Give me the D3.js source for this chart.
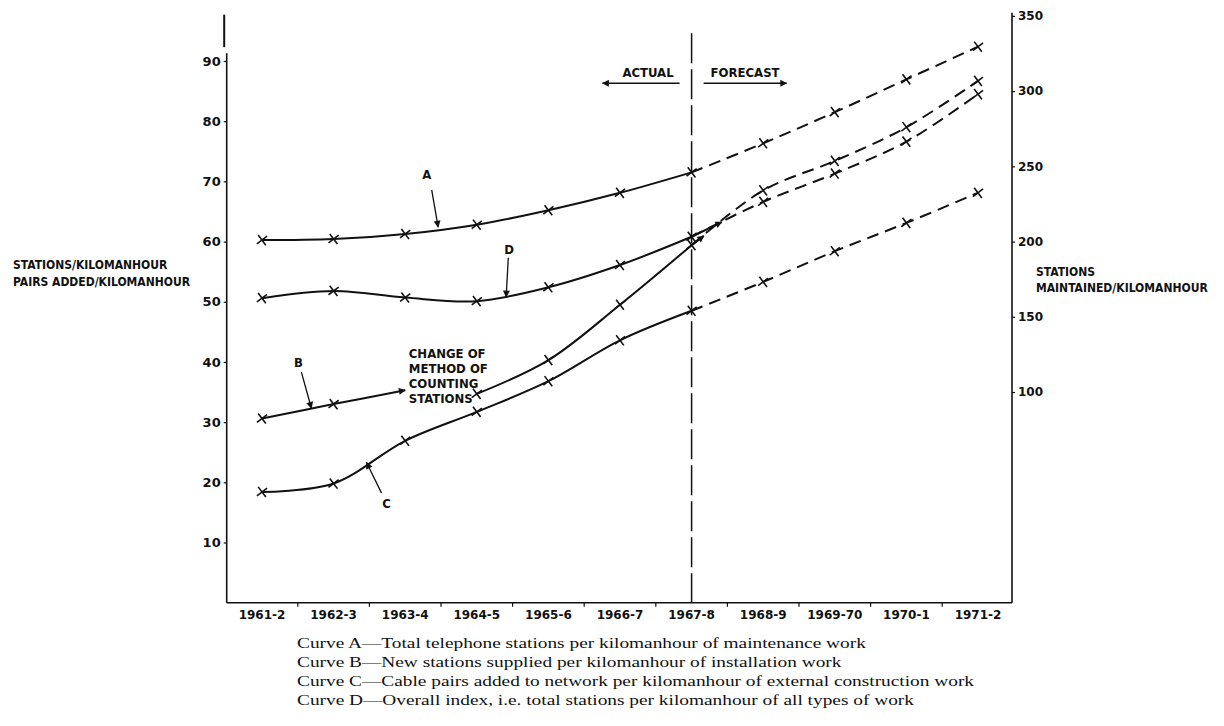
<!DOCTYPE html>
<html><head><meta charset="utf-8">
<script src="https://cdn.jsdelivr.net/npm/d3@7"></script>
<style>
html,body{margin:0;padding:0;background:#fff;}
svg{display:block;}
.cap{font-family:"DejaVu Sans Condensed","DejaVu Sans",sans-serif;font-weight:bold;fill:#111;}
.num{font-family:"DejaVu Sans",sans-serif;font-weight:bold;fill:#111;}
.leg{font-family:"Liberation Serif","Times New Roman",serif;fill:#111;}
</style></head><body>
<svg id="chart" width="1224" height="726"></svg>
<script>
// ---------------- data ----------------
const categories = ["1961-2","1962-3","1963-4","1964-5","1965-6","1966-7","1967-8","1968-9","1969-70","1970-1","1971-2"];
const lastActual = "1967-8";
// Curve A read on the right axis (stations maintained / kilomanhour)
const curveA = [201, 201.7, 205, 211.2, 220.8, 232.4, 246, 265.3, 286, 307.8, 329.5];
// Curve B before the change of counting method (last value = arrow tip, no marker)
const curveBOld = [30.6, 33.0, 35.3];
// Curve B after the change of counting method
const curveB = [null, null, null, 34.7, 40.3, 49.5, 59.4, 68.5, 73.4, 79.0, 86.7];
const curveC = [18.4, 19.8, 26.9, 31.7, 36.8, 43.6, 48.5, 53.3, 58.4, 63.1, 68.1];
const curveD = [50.6, 51.8, 50.7, 50.1, 52.4, 56.1, 60.8, 66.6, 71.3, 76.6, 84.5];
const leftTicks = [10, 20, 30, 40, 50, 60, 70, 80, 90];
const rightTicks = [100, 150, 200, 250, 300, 350];
const leftTitle = ["STATIONS/KILOMANHOUR", "PAIRS ADDED/KILOMANHOUR"];
const rightTitle = ["STATIONS", "MAINTAINED/KILOMANHOUR"];
const changeNote = ["CHANGE OF", "METHOD OF", "COUNTING", "STATIONS"];
const legendLines = [
  "Curve A\u2014Total telephone stations per kilomanhour of maintenance work",
  "Curve B\u2014New stations supplied per kilomanhour of installation work",
  "Curve C\u2014Cable pairs added to network per kilomanhour of external construction work",
  "Curve D\u2014Overall index, i.e. total stations per kilomanhour of all types of work"
];

// ---------------- scales ----------------
const svg = d3.select("#chart");
const x = d3.scalePoint().domain(categories).range([262, 978]);
const yL = d3.scaleLinear().domain([0, 90]).range([602.7, 61]);
// right axis: R = 4*(L-10)
const yR = d3.scaleLinear().domain([0, 350]).range([yL(10), yL(97.5)]);
const step = x.step();
const xi = i => x(categories[0]) + i * step;
const leftX = 226.7, rightX = 1012;
const divIdx = categories.indexOf(lastActual);

const defs = svg.append("defs");
defs.append("marker").attr("id", "arr").attr("viewBox", "0 0 10 10")
  .attr("refX", 9).attr("refY", 5).attr("markerWidth", 9).attr("markerHeight", 7)
  .attr("markerUnits", "userSpaceOnUse").attr("orient", "auto")
  .append("path").attr("d", "M0,0L10,5L0,10Z").attr("fill", "#111");

const g = svg.append("g");

// ---------------- axes ----------------
g.append("line").attr("x1", leftX).attr("x2", leftX).attr("y1", yL(91.3)).attr("y2", yL(0))
  .attr("stroke", "#111").attr("stroke-width", 1.6);
g.append("line").attr("x1", leftX - 2.5).attr("x2", leftX - 2.5).attr("y1", yL(97.7)).attr("y2", yL(92.3))
  .attr("stroke", "#111").attr("stroke-width", 2);
g.append("line").attr("x1", rightX).attr("x2", rightX).attr("y1", yR(352)).attr("y2", yL(0))
  .attr("stroke", "#111").attr("stroke-width", 1.6);
g.append("line").attr("x1", leftX).attr("x2", rightX).attr("y1", yL(0)).attr("y2", yL(0))
  .attr("stroke", "#111").attr("stroke-width", 1.6);

const axL = g.append("g").attr("transform", `translate(${leftX},0)`)
  .call(d3.axisLeft(yL).tickValues(leftTicks).tickSize(3).tickPadding(3).tickFormat(d3.format("d")));
axL.select(".domain").remove();
axL.selectAll("text").attr("class", "num").style("font-size", "13px").attr("font-family", null);
axL.selectAll("line").attr("stroke", "#111").attr("stroke-width", 1.2);

const axR = g.append("g").attr("transform", `translate(${rightX},0)`)
  .call(d3.axisRight(yR).tickValues(rightTicks).tickSize(3).tickPadding(3).tickFormat(d3.format("d")));
axR.select(".domain").remove();
axR.selectAll("text").attr("class", "num").style("font-size", "12px").attr("font-family", null);
axR.selectAll("line").attr("stroke", "#111").attr("stroke-width", 1.2);

// x axis: ticks at band boundaries, labels at categories
g.selectAll(".xt").data(categories.slice(0, -1)).join("line").attr("class", "xt")
  .attr("x1", d => x(d) + step / 2).attr("x2", d => x(d) + step / 2)
  .attr("y1", yL(0)).attr("y2", yL(0) + 4).attr("stroke", "#111").attr("stroke-width", 1.2);
g.selectAll(".xl").data(categories).join("text").attr("class", "num xl")
  .attr("x", d => x(d)).attr("y", yL(0) + 16).attr("text-anchor", "middle")
  .style("font-size", "12px").text(d => d);

// axis titles
g.selectAll(".lt").data(leftTitle).join("text").attr("class", "cap lt")
  .attr("x", 13).attr("y", (d, i) => 269 + i * 17).style("font-size", "12px").text(d => d);
g.selectAll(".rt").data(rightTitle).join("text").attr("class", "cap rt")
  .attr("x", 1036).attr("y", (d, i) => 276 + i * 16).style("font-size", "12px").text(d => d);

// ---------------- divider ----------------
const dx = x(lastActual);
g.append("line").attr("x1", dx).attr("x2", dx).attr("y1", yL(94.6)).attr("y2", yL(0))
  .attr("stroke", "#111").attr("stroke-width", 1.5).attr("stroke-dasharray", "30,6");
g.append("text").attr("class", "cap").attr("x", dx - 18).attr("y", yL(87.4)).attr("text-anchor", "end")
  .style("font-size", "13px").text("ACTUAL");
g.append("text").attr("class", "cap").attr("x", dx + 19).attr("y", yL(87.4))
  .style("font-size", "13px").text("FORECAST");
g.append("line").attr("x1", dx - 12).attr("x2", dx - 89).attr("y1", yL(86.3)).attr("y2", yL(86.3))
  .attr("stroke", "#111").attr("stroke-width", 1.6).attr("marker-end", "url(#arr)");
g.append("line").attr("x1", dx + 12).attr("x2", dx + 95).attr("y1", yL(86.3)).attr("y2", yL(86.3))
  .attr("stroke", "#111").attr("stroke-width", 1.6).attr("marker-end", "url(#arr)");

// ---------------- curves ----------------
function pts(arr) {
  return arr.map((v, i) => ({ c: categories[i], v })).filter(d => d.v != null);
}
const curve = d3.curveCatmullRom.alpha(0.5);
function draw(arr, yS, opts) {
  const all = pts(arr);
  const act = all.filter(d => categories.indexOf(d.c) <= divIdx);
  const fc = all.filter(d => categories.indexOf(d.c) >= divIdx);
  const line = d3.line().x(d => x(d.c)).y(d => yS(d.v)).curve(curve);
  g.append("path").attr("d", line(act)).attr("fill", "none").attr("stroke", "#111").attr("stroke-width", 2);
  g.append("path").attr("d", line(fc)).attr("fill", "none").attr("stroke", "#111").attr("stroke-width", 2)
    .attr("stroke-dasharray", "12,7");
  g.selectAll(null).data(all).join("path")
    .attr("transform", d => `translate(${x(d.c)},${yS(d.v)}) rotate(8)`)
    .attr("d", "M-4.5,-4.5L4.5,4.5M-4.5,4.5L4.5,-4.5").attr("stroke", "#111").attr("stroke-width", 1.6);
  if (opts && opts.arrow) {
    const a = all.find(d => d.c === lastActual), b = all[all.indexOf(a) + 1];
    const t = opts.arrow;
    const ex = x(a.c) + (x(b.c) - x(a.c)) * t, ey = yS(a.v) + (yS(b.v) - yS(a.v)) * t;
    g.append("line").attr("x1", x(a.c)).attr("y1", yS(a.v)).attr("x2", ex).attr("y2", ey)
      .attr("stroke", "#111").attr("stroke-width", 2).attr("marker-end", "url(#arr)");
  }
}
draw(curveA, yR);
draw(curveC, yL);
draw(curveD, yL, { arrow: 0.42 });
draw(curveB, yL, { arrow: 0.17 });

// B before the change of counting method
const bOld = curveBOld.map((v, i) => ({ c: categories[i], v }));
g.append("path").attr("d", d3.line().x(d => x(d.c)).y(d => yL(d.v)).curve(curve)(bOld))
  .attr("fill", "none").attr("stroke", "#111").attr("stroke-width", 2).attr("marker-end", "url(#arr)");
g.selectAll(null).data(bOld.slice(0, -1)).join("path")
  .attr("transform", d => `translate(${x(d.c)},${yL(d.v)}) rotate(8)`)
  .attr("d", "M-4.5,-4.5L4.5,4.5M-4.5,4.5L4.5,-4.5").attr("stroke", "#111").attr("stroke-width", 1.6);

// ---------------- curve labels ----------------
const labels = [
  { t: "A", lx: 2.30, lv: 70.4, ax1: 2.37, av1: 68.6, ax2: 2.46, av2: 62.4 },
  { t: "D", lx: 3.45, lv: 58.0, ax1: 3.44, av1: 57.3, ax2: 3.41, av2: 50.8 },
  { t: "B", lx: 0.51, lv: 39.1, ax1: 0.55, av1: 38.3, ax2: 0.69, av2: 32.3 },
  { t: "C", lx: 1.74, lv: 15.8, ax1: 1.67, av1: 18.2, ax2: 1.46, av2: 23.3 }
];
labels.forEach(l => {
  g.append("text").attr("class", "cap").attr("x", xi(l.lx)).attr("y", yL(l.lv))
    .attr("text-anchor", "middle").style("font-size", "13px").text(l.t);
  g.append("line").attr("x1", xi(l.ax1)).attr("y1", yL(l.av1)).attr("x2", xi(l.ax2)).attr("y2", yL(l.av2))
    .attr("stroke", "#111").attr("stroke-width", 1.3).attr("marker-end", "url(#arr)");
});
g.selectAll(".cn").data(changeNote).join("text").attr("class", "cap cn")
  .attr("x", xi(2.05)).attr("y", (d, i) => yL(40.6 - i * 2.5)).style("font-size", "13px").text(d => d);

// ---------------- legend text ----------------
const lg = g.append("g").attr("transform", "translate(297,0) scale(1.29,1)");
lg.selectAll("text").data(legendLines).join("text").attr("class", "leg")
  .attr("x", 0).attr("y", (d, i) => 648 + i * 19).style("font-size", "15px").text(d => d);
</script>
</body></html>
